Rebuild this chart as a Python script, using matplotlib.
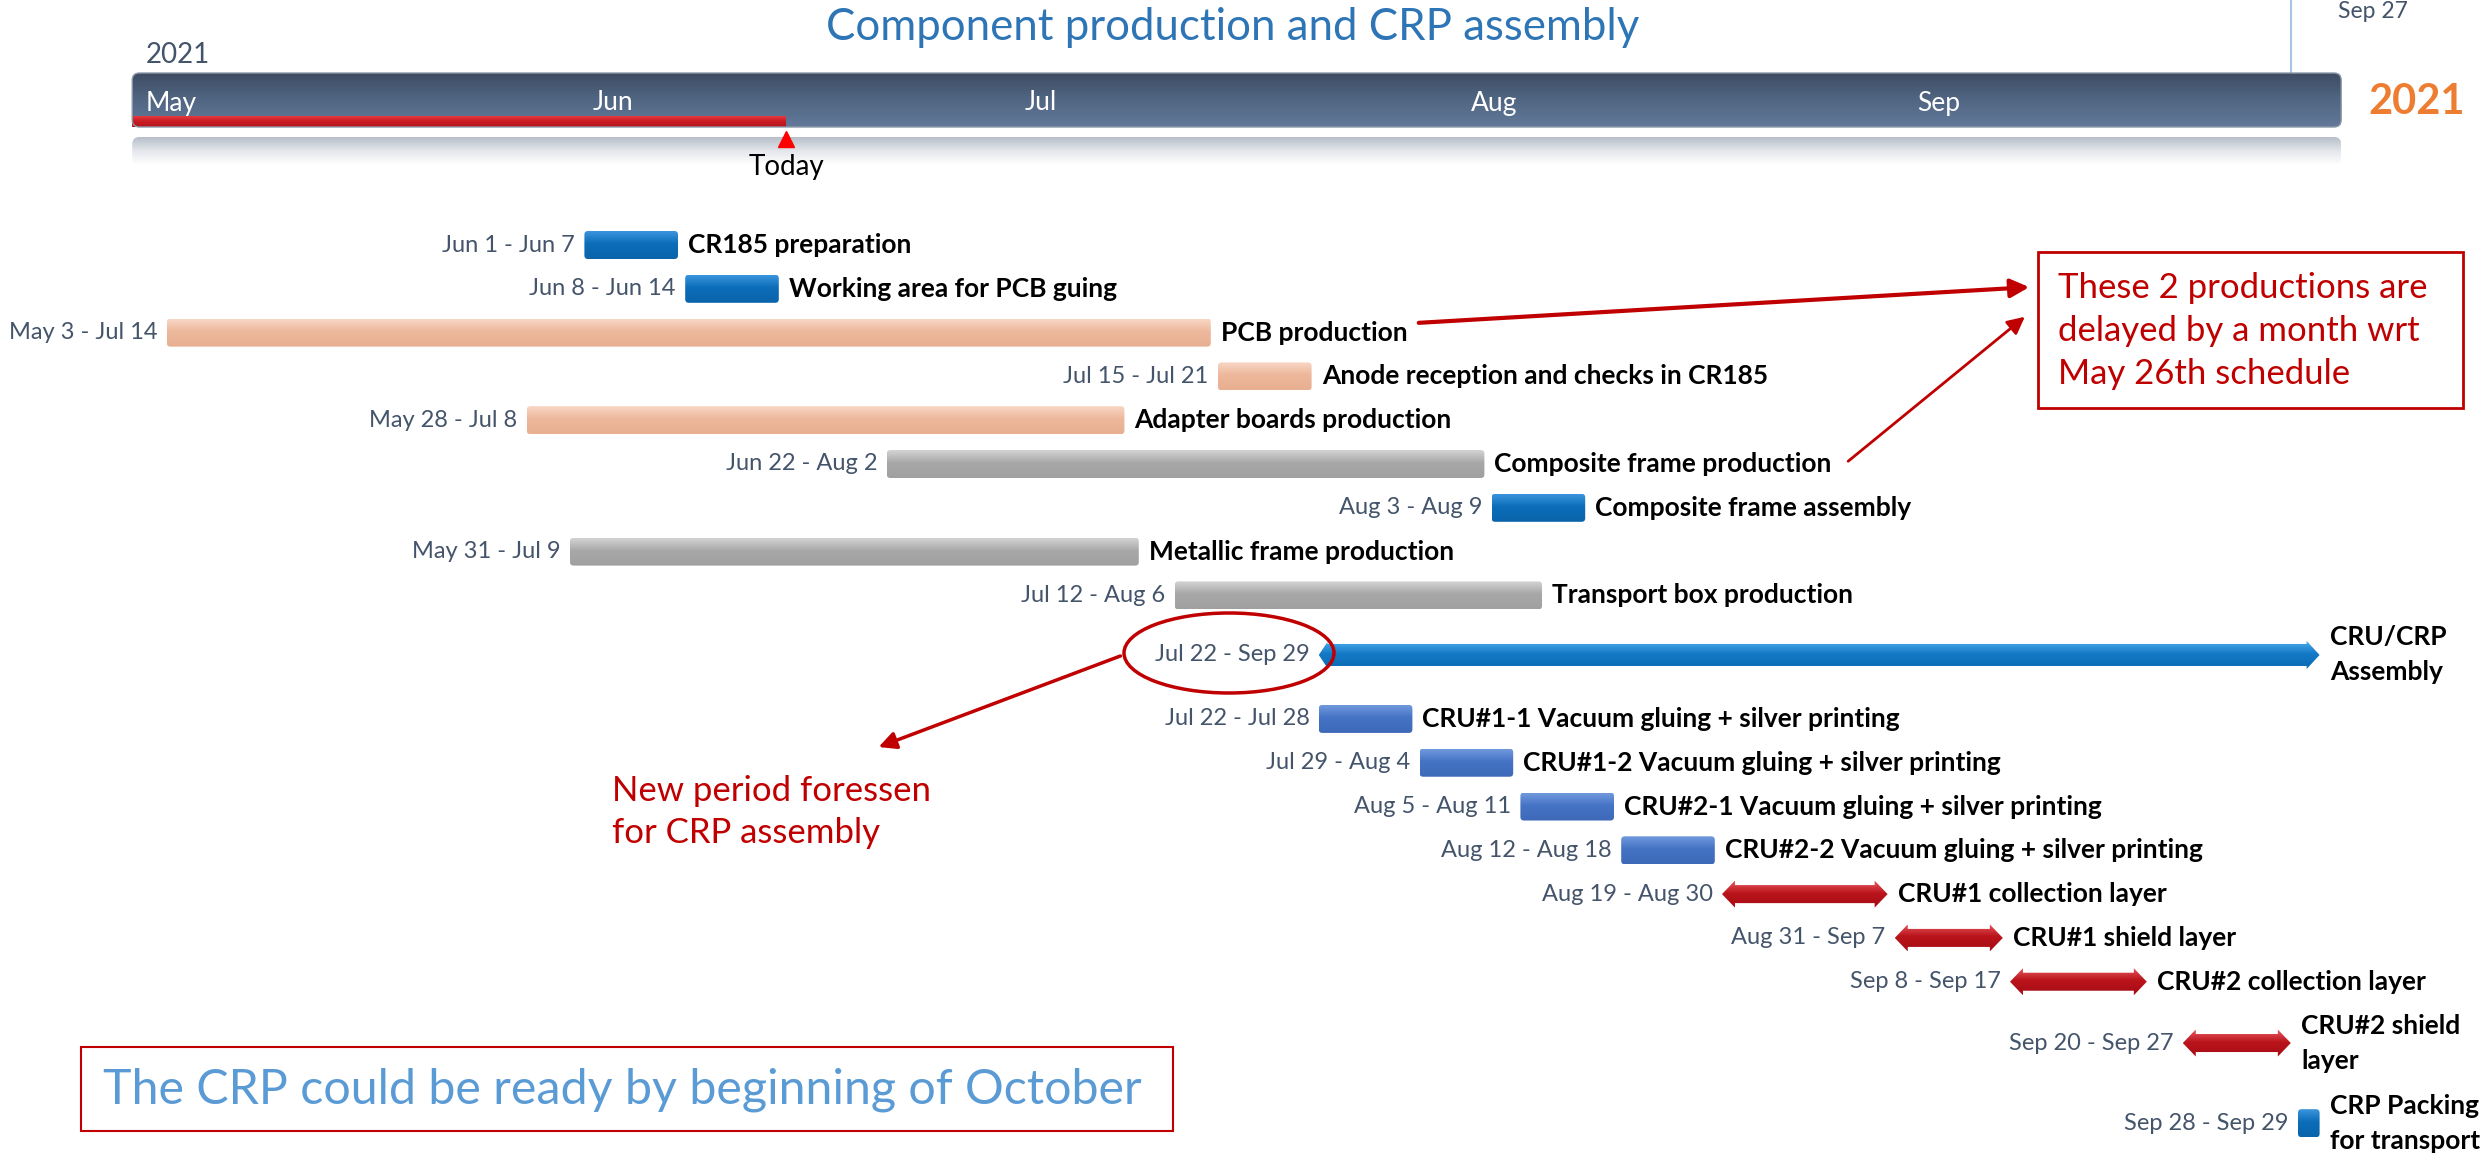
import datetime as dt
import numpy as np
import matplotlib
matplotlib.use("Agg")
import matplotlib.pyplot as plt
import matplotlib.dates as mdates
from matplotlib.patches import FancyBboxPatch, Polygon, Ellipse, Rectangle
from matplotlib.colors import LinearSegmentedColormap

plt.rcParams["font.family"] = ["Lato", "DejaVu Sans"]

# ---- data ----
tasks = ["CR185 preparation", "Working area for PCB guing", "PCB production",
         "Anode reception and checks in CR185", "Adapter boards production",
         "Composite frame production", "Composite frame assembly",
         "Metallic frame production", "Transport box production",
         "CRU/CRP\nAssembly",
         "CRU#1-1 Vacuum gluing + silver printing",
         "CRU#1-2 Vacuum gluing + silver printing",
         "CRU#2-1 Vacuum gluing + silver printing",
         "CRU#2-2 Vacuum gluing + silver printing",
         "CRU#1 collection layer", "CRU#1 shield layer",
         "CRU#2 collection layer", "CRU#2 shield\nlayer",
         "CRP Packing\nfor transport"]
start_dates = ["2021-06-01", "2021-06-08", "2021-05-03", "2021-07-15", "2021-05-28",
               "2021-06-22", "2021-08-03", "2021-05-31", "2021-07-12", "2021-07-22",
               "2021-07-22", "2021-07-29", "2021-08-05", "2021-08-12", "2021-08-19",
               "2021-08-31", "2021-09-08", "2021-09-20", "2021-09-28"]
end_dates = ["2021-06-07", "2021-06-14", "2021-07-14", "2021-07-21", "2021-07-08",
             "2021-08-02", "2021-08-09", "2021-07-09", "2021-08-06", "2021-09-29",
             "2021-07-28", "2021-08-04", "2021-08-11", "2021-08-18", "2021-08-30",
             "2021-09-07", "2021-09-17", "2021-09-27", "2021-09-29"]
months = ["May", "Jun", "Jul", "Aug", "Sep"]
month_starts = ["2021-05-01", "2021-06-01", "2021-07-01", "2021-08-01", "2021-09-01"]
timeline_end = "2021-10-01"
today = "2021-06-15"
milestone_label = "Sep 27"
milestone_date = "2021-09-27"
year = "2021"

# ---- styles / layout ----
kind = ["blue", "blue", "peach", "peach", "peach", "gray", "blue", "gray", "gray",
        "arrow", "vblue", "vblue", "vblue", "vblue", "red", "red", "red", "red", "blue"]
grad = {"blue": ("#3A95DD", "#0C6DB9", "#0A64AA"),
        "peach": ("#F9D6C4", "#EDB89C", "#E8AF91"),
        "gray": ("#D4D4D4", "#A8A8A8", "#A0A0A0"),
        "vblue": ("#7098DC", "#4573C5", "#3E69B8"),
        "red": ("#E5555A", "#BA141C", "#A60C14"),
        "arrow": ("#4AAAEC", "#1479C6", "#0A6AB4")}
row_extra = [0] * 9 + [0.36] + [0.82] * 7 + [1.22] + [2.05]
ROW0, ROWH, BARH = 245, 43.8, 28
PXDAY, X0PX = 14.4, 138
GAP = 0.5

W, H = 2492, 1157
fig = plt.figure(figsize=(W / 100, H / 100), dpi=100)
ax = fig.add_axes([0, 0, 1, 1])
may1 = mdates.date2num(dt.datetime(2021, 5, 1))
ax.set_xlim(may1 - X0PX / PXDAY, may1 + (W - X0PX) / PXDAY)
ax.set_ylim(H, 0)
ax.axis("off")

ov = fig.add_axes([0, 0, 1, 1], facecolor="none")
ov.set_xlim(0, W)
ov.set_ylim(H, 0)
ov.axis("off")


def d(s):
    return mdates.date2num(dt.datetime.strptime(s, "%Y-%m-%d"))


def gradient_fill(patch, x0, x1, ytop, ybot, colors):
    ax.add_patch(patch)
    cmap = LinearSegmentedColormap.from_list("g", [(0, colors[0]), (0.45, colors[1]), (1, colors[2])])
    im = ax.imshow(np.linspace(0, 1, 64).reshape(-1, 1), cmap=cmap, aspect="auto",
                   extent=(x0, x1, ybot, ytop), origin="upper", zorder=3)
    im.set_clip_path(patch)


# ---- header timeline ----
hx0, hx1 = d(month_starts[0]) - 0.4, d(timeline_end)
head = FancyBboxPatch((hx0, 73), hx1 - hx0, 54, boxstyle="round,pad=0,rounding_size=0.5",
                      mutation_aspect=PXDAY, fc="none", ec="#8C98A8", lw=1, zorder=4)
gradient_fill(head, hx0, hx1, 73, 127, ("#3E4C63", "#4F6480", "#62799A"))
refl = FancyBboxPatch((hx0, 137), hx1 - hx0, 28, boxstyle="round,pad=0,rounding_size=0.5",
                      mutation_aspect=PXDAY, fc="none", ec="none")
ax.add_patch(refl)
im = ax.imshow(np.linspace(0, 1, 64).reshape(-1, 1),
               cmap=LinearSegmentedColormap.from_list("r", ["#B7BFCA", "#E4E7EC", "#FFFFFF"]),
               aspect="auto", extent=(hx0, hx1, 165, 137), origin="upper", zorder=2)
im.set_clip_path(refl)
for m, s in zip(months, month_starts):
    ax.text(d(s) + 0.55, 103, m, color="white", fontsize=19, va="center", ha="left", zorder=6)
prog = Rectangle((hx0, 116), d(today) - hx0, 11, zorder=4, fc="none", ec="none")
gradient_fill(prog, hx0, d(today), 116, 127, ("#E23A40", "#CC1C24", "#B5141B"))
ax.plot([d(today)], [139], marker="^", color="#FF0000", markersize=11, zorder=6)
ax.text(d(today), 167, "Today", ha="center", va="center", fontsize=20, color="black")
ax.text(d(month_starts[0]) + 0.55, 55, year, fontsize=20, color="#44546A", va="center")
ax.plot([d(milestone_date) + 0.5] * 2, [0, 73], color="#A9C4E8", lw=1.5, zorder=1)
ax.text(d(milestone_date) + 3.8, 12, milestone_label, fontsize=16.5, color="#44546A", va="center")
ov.text(2368, 102, year, fontsize=30, fontweight="bold", color="#ED7D31", va="center")
ov.text(1233, 27, "Component production and CRP assembly", fontsize=31.5, color="#2E75B6",
        ha="center", va="center")

# ---- tasks ----
for i, (name, s, e, k) in enumerate(zip(tasks, start_dates, end_dates, kind)):
    y = ROW0 + ROWH * (i + row_extra[i])
    x0 = d(s)
    x1 = d(e) + 1 - GAP
    sd = dt.datetime.strptime(s, "%Y-%m-%d")
    ed = dt.datetime.strptime(e, "%Y-%m-%d")
    ax.text(x0 - 0.65, y, f"{sd:%b} {sd.day} - {ed:%b} {ed.day}", ha="right", va="center",
            fontsize=17, color="#44546A", zorder=6)
    if k == "red":
        L, hs, hh = 0.9, 9, 13.5
        pts = [(x0, y), (x0 + L, y - hh), (x0 + L, y - hs), (x1 - L, y - hs), (x1 - L, y - hh),
               (x1, y), (x1 - L, y + hh), (x1 - L, y + hs), (x0 + L, y + hs), (x0 + L, y + hh)]
        patch = Polygon(pts, closed=True, fc="none", ec="none")
        gradient_fill(patch, x0, x1, y - hh, y + hh, grad[k])
    elif k == "arrow":
        L, hs, hh = 0.9, 11, 14
        pts = [(x0, y), (x0 + 0.6, y - hh + 1), (x0 + 0.6, y - hs), (x1 - L, y - hs),
               (x1 - L, y - hh), (x1, y), (x1 - L, y + hh), (x1 - L, y + hs),
               (x0 + 0.6, y + hs), (x0 + 0.6, y + hh - 1)]
        patch = Polygon(pts, closed=True, fc="none", ec="none")
        gradient_fill(patch, x0, x1, y - hh, y + hh, grad[k])
    else:
        patch = FancyBboxPatch((x0, y - BARH / 2), x1 - x0, BARH,
                               boxstyle="round,pad=0,rounding_size=0.25",
                               mutation_aspect=PXDAY, fc="none", ec="none")
        gradient_fill(patch, x0, x1, y - BARH / 2, y + BARH / 2, grad[k])
    ax.text(x1 + 0.7, y, name, ha="left", va="center", fontsize=19, fontweight="bold",
            color="black", linespacing=1.55, zorder=6)

ax.set_xlim(may1 - X0PX / PXDAY, may1 + (W - X0PX) / PXDAY)
ax.set_ylim(H, 0)

# ---- annotations ----
red = "#C00000"
ov.add_patch(Rectangle((2038, 252), 425, 156, fill=False, ec=red, lw=2))
ov.text(2058, 331, "These 2 productions are\ndelayed by a month wrt\nMay 26th schedule",
        color=red, fontsize=25, va="center", ha="left", linespacing=1.42)
ov.annotate("", xy=(2032, 287), xytext=(1416, 323),
            arrowprops=dict(arrowstyle="-|>", color=red, lw=3, mutation_scale=28))
ov.annotate("", xy=(2027, 315), xytext=(1846, 463),
            arrowprops=dict(arrowstyle="-|>", color=red, lw=2, mutation_scale=26))
ov.add_patch(Ellipse((1229, 653), 210, 80, fill=False, ec=red, lw=2.5))
ov.annotate("", xy=(876, 748), xytext=(1123, 655),
            arrowprops=dict(arrowstyle="-|>", color=red, lw=2.5, mutation_scale=26))
ov.text(612, 812, "New period foressen\nfor CRP assembly", color=red, fontsize=25,
        va="center", ha="left", linespacing=1.42)
ov.add_patch(Rectangle((81, 1047), 1092, 84, fill=False, ec=red, lw=1.5))
ov.text(103, 1090, "The CRP could be ready by beginning of October", color="#5B9BD5",
        fontsize=34.8, va="center", ha="left")

fig.savefig("out.png", dpi=100)
